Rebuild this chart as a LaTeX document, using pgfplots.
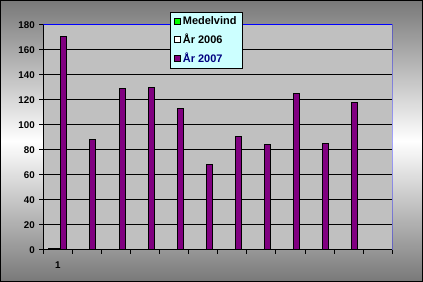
\documentclass[border=0pt]{standalone}
\usepackage{pgfplots}
\pgfplotsset{compat=1.18}
\usepackage{fontspec}
\setmainfont{Liberation Sans}

\definecolor{barpurple}{RGB}{128,0,128}
\definecolor{bargreen}{RGB}{0,255,0}
\definecolor{plotgray}{RGB}{192,192,192}
\definecolor{legendcyan}{RGB}{204,255,255}
\definecolor{navytext}{RGB}{0,0,128}
\definecolor{framegray}{RGB}{120,120,120}

\begin{document}
\begin{tikzpicture}[x=1bp,y=1bp]
  % chart background: grey - white - grey
  \shade[top color=framegray, bottom color=framegray, middle color=white]
    (0,0) rectangle (423,282);
  \draw[black, line width=1.5bp] (0.75,0.75) rectangle (422.25,281.25);

  \begin{axis}[
    at={(43.3bp,32bp)}, anchor=south west,
    scale only axis, width=349bp, height=225bp,
    ybar=0pt, bar width=6bp,
    xmin=0.5, xmax=12.5,
    ymin=0, ymax=180,
    ytick={0,20,...,180},
    xtick={0.5,1.5,...,12.5},
    xticklabels={},
    extra x ticks={1},
    extra x tick labels={1},
    extra x tick style={major tick length=0pt, grid=none,
      xticklabel style={yshift=-8bp}},
    axis x line*=bottom, axis y line*=left,
    axis line style={black, line width=1bp},
    tick align=outside,
    major tick length=4bp,
    tick style={black, line width=1bp},
    ymajorgrids=true,
    grid style={black, line width=1bp},
    axis background/.style={fill=plotgray},
    /pgf/number format/assume math mode=true,
    ticklabel style={font=\bfseries\fontsize{9.8}{11}\selectfont},
    yticklabel style={xshift=-1bp},
    legend style={
      at={(0.363,1.058)}, anchor=north west,
      fill=legendcyan, draw=black, line width=1bp,
      font=\bfseries\fontsize{11}{12}\selectfont,
      inner xsep=4bp, inner ysep=2bp,
      row sep=4bp,
      /tikz/every even column/.append style={column sep=1.5bp},
    },
    legend cell align=left,
    legend image code/.code={
      \draw[#1, draw=black, line width=0.8bp] (0bp,-2.8bp) rectangle (5.6bp,2.8bp);
    },
    every axis plot/.append style={draw=black, line width=1bp},
  ]
    \addplot[fill=bargreen] coordinates {(1,0.8)};
    \addlegendentry{Medelvind}
    \addplot[fill=white] coordinates {(1,0.8)};
    \addlegendentry{År 2006}
    \addplot[fill=barpurple] coordinates {
      (1,171) (2,88) (3,129) (4,130) (5,113) (6,68)
      (7,91) (8,84) (9,125) (10,85) (11,118)
    };
    \addlegendentry{\textcolor{navytext}{År 2007}}
    % blue frame on top and right side of the plot area
    \draw[blue, line width=1bp] (rel axis cs:0,1) -- (rel axis cs:1,1) -- (rel axis cs:1,0);
  \end{axis}
\end{tikzpicture}
\end{document}
